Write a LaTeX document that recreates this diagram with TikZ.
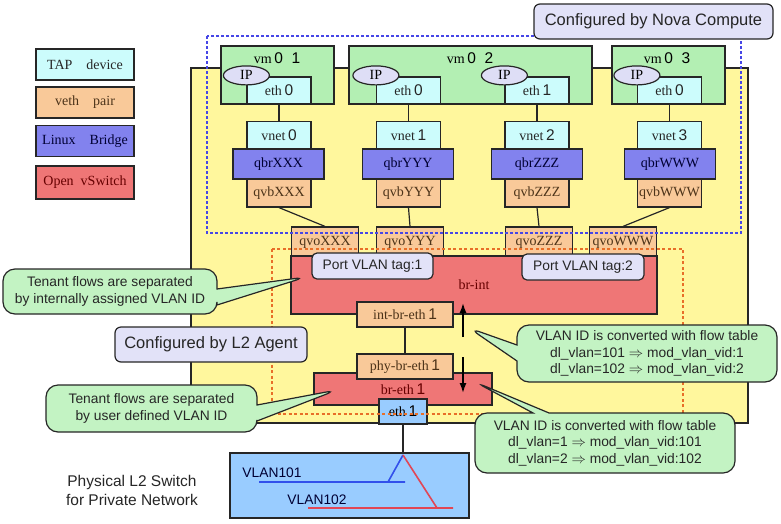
\documentclass[tikz,border=0pt]{standalone}
\usepackage{fontspec}
\setmainfont{Liberation Serif}
\setsansfont{Liberation Sans}
\usetikzlibrary{shapes.geometric,shapes.callouts,arrows.meta}

\definecolor{tapc}{RGB}{204,252,252}
\definecolor{vethc}{RGB}{249,201,153}
\definecolor{lbrc}{RGB}{130,130,238}
\definecolor{ovsc}{RGB}{239,118,118}
\definecolor{vmc}{RGB}{179,239,179}
\definecolor{hostc}{RGB}{255,247,157}
\definecolor{notec}{RGB}{226,226,248}
\definecolor{callc}{RGB}{195,243,195}
\definecolor{swc}{RGB}{153,204,255}
\definecolor{ipc}{RGB}{222,222,246}
\definecolor{novac}{RGB}{70,70,230}
\definecolor{agentc}{RGB}{232,110,40}

\newcommand\dg[1]{{\sffamily\fontsize{15.5}{15}\selectfont #1}}
\newcommand\sst{\sffamily\fontsize{13.8}{16.5}\selectfont}

\begin{document}
\begin{tikzpicture}[x=1pt,y=-1pt]
\tikzstyle{box}=[draw=black!85,line width=1.2pt,inner sep=0pt,font=\fontsize{14}{15}\selectfont]
\tikzstyle{tap}=[box,fill=tapc,minimum width=64pt,minimum height=27pt,text=black!85]
\tikzstyle{veth}=[box,fill=vethc,minimum width=64pt,minimum height=28pt,text=brown!40!black]
\tikzstyle{lbr}=[box,fill=lbrc,minimum width=91pt,minimum height=30pt,text=blue!20!black]
\tikzstyle{ovs}=[box,fill=ovsc,text=red!40!black]
\tikzstyle{vm}=[box,fill=vmc,minimum height=58pt]
\tikzstyle{vmname}=[inner sep=0pt,font=\fontsize{14}{15}\selectfont]
\tikzstyle{ip}=[box,ellipse,fill=ipc,minimum width=46pt,minimum height=19pt]
\tikzstyle{legend}=[minimum width=98pt,minimum height=31pt]
\tikzstyle{note}=[draw=black!85,line width=1.2pt,rounded corners=6pt,fill=notec,inner sep=0pt,font=\sffamily\fontsize{16.5}{18}\selectfont,text=black!85,minimum height=35pt]
\tikzstyle{tag}=[note,font=\sst,minimum height=26pt,rounded corners=5pt]
\tikzstyle{flownote}=[rectangle callout,draw=black!85,line width=1.2pt,rounded corners=12pt,fill=callc,inner sep=0pt,font=\sst,text=black!85,align=center,callout pointer width=16pt]
\tikzstyle{wire}=[draw=black!85,line width=1.2pt]
\tikzstyle{flow}=[-{Latex[length=10pt,width=7pt]},line width=1.5pt]
\useasboundingbox (0,0) rectangle (781,523);
% legend
\node [tap,legend] (lgtap) at (85,64.5) {TAP\quad device};
\node [veth,legend] (lgveth) at (85,102.5) {veth\quad pair};
\node [lbr,legend] (lglbr) at (85,141) {Linux\quad Bridge};
\node [ovs,legend,minimum height=33pt] (lgovs) at (85,182.5) {Open\enspace vSwitch};
% compute host
\node [box,fill=hostc,minimum width=557pt,minimum height=355pt] (host) at (469.5,245.5) {};
\node [vm,minimum width=113pt] (vm1) at (277.5,75) {};
\node [vm,minimum width=243pt] (vm2) at (470.5,75) {};
\node [vm,minimum width=113pt] (vm3) at (668.5,75) {};
\node [vmname] (vm1l) at (277,58) {vm\dg{\,0\ \ 1}};
\node [vmname] (vm2l) at (470,58) {vm\dg{\,0\ \ 2}};
\node [vmname] (vm3l) at (667,58) {vm\dg{\,0\ \ 3}};
\node [tap] (e10) at (279,90.5) {eth\dg{\,0}};
\node [tap] (e20) at (408.5,90.5) {eth\dg{\,0}};
\node [tap] (e21) at (537,90.5) {eth\dg{\,1}};
\node [tap] (e30) at (669.5,90.5) {eth\dg{\,0}};
\node [ip,yshift=1pt] (ip10) at (e10.north west) {IP};
\node [ip,yshift=1pt] (ip20) at (e20.north west) {IP};
\node [ip,yshift=1pt] (ip21) at (e21.north west) {IP};
\node [ip,yshift=1pt] (ip30) at (e30.north west) {IP};
\node [tap] (vnet0) at (279,135) {vnet\dg{\,0}};
\node [tap] (vnet1) at (408.5,135) {vnet\dg{\,1}};
\node [tap] (vnet2) at (537,135) {vnet\dg{\,2}};
\node [tap] (vnet3) at (669.5,135) {vnet\dg{\,3}};
\node [lbr] (qbrx) at (278.5,164) {qbrXXX};
\node [lbr] (qbry) at (408,164) {qbrYYY};
\node [lbr] (qbrz) at (537,164) {qbrZZZ};
\node [lbr] (qbrw) at (670,164) {qbrWWW};
\node [veth] (qvbx) at (279,193) {qvbXXX};
\node [veth] (qvby) at (408.5,193) {qvbYYY};
\node [veth] (qvbz) at (537,193) {qvbZZZ};
\node [veth] (qvbw) at (669.5,193) {qvbWWW};
\node [veth,minimum width=67pt,minimum height=30pt] (qvox) at (325,242) {qvoXXX};
\node [veth,minimum width=67pt,minimum height=30pt] (qvoy) at (410,242) {qvoYYY};
\node [veth,minimum width=67pt,minimum height=30pt] (qvoz) at (539,242) {qvoZZZ};
\node [veth,minimum width=67pt,minimum height=30pt] (qvow) at (623,242) {qvoWWW};
% integration and physical bridges
\node [ovs,minimum width=366pt,minimum height=58pt] (brint) at (474,285) {br-int};
\node [tag,minimum width=121pt] (tag1) at (372.5,266) {Port VLAN tag:1};
\node [tag,minimum width=122pt] (tag2) at (583,267) {Port VLAN tag:2};
\node [veth,minimum width=96pt,minimum height=25pt] (intbr) at (405,314.5) {int-br-eth\dg{\,1}};
\node [ovs,minimum width=178pt,minimum height=32pt] (breth) at (403,389) {\raisebox{-1pt}{br-eth\dg{\,1}}};
\node [veth,minimum width=96pt,minimum height=25pt] (phybr) at (405,366.5) {phy-br-eth\dg{\,1}};
\node [box,fill=swc,minimum width=48pt,minimum height=25pt] (eth1) at (403,411.5) {eth\dg{\,1}};
\draw [wire] (e10) -- (vnet0);
\draw [wire] (e20) -- (vnet1);
\draw [wire] (e21) -- (vnet2);
\draw [wire] (e30) -- (vnet3);
\draw [wire] (qvbx.south) -- (qvox.north);
\draw [wire] (qvby.south) -- (qvoy.north);
\draw [wire] (qvbz.south) -- (qvoz.north);
\draw [wire] (qvbw.south) -- (qvow.north);
\draw [wire] (intbr) -- (phybr);
% physical switch
\node [box,fill=swc,minimum width=239pt,minimum height=65pt] (sw) at (349.5,485.5) {};
\coordinate (swtop) at (403,455);
\draw [wire] (eth1.south) -- (sw.north -| eth1.south);
\node [font=\sst,text=blue!20!black] (v101) at (272,473) {VLAN101};
\node [font=\sst,text=blue!20!black] (v102) at (317,500) {VLAN102};
\draw [line width=1.6pt,color={rgb,255:red,50;green,80;blue,235}] (259,482) -- (405,482) (388,482) -- (swtop);
\draw [line width=1.6pt,color={rgb,255:red,225;green,70;blue,85}] (308,508) -- (453,508) (swtop) -- (437,508);
\node [font=\sffamily\fontsize{15.5}{19}\selectfont,align=center,text=black!85] (phys) at (132,490) {Physical L2 Switch\\for Private Network};
% configuration scopes
\draw [novac,line width=1.3pt,dash pattern=on 3pt off 2pt] (207,36) rectangle (741,233);
\draw [agentc,line width=1.3pt,dash pattern=on 3pt off 2.5pt] (272,249) rectangle (683,414);
\node [note,minimum width=239pt] (nova) at (653.5,21.5) {Configured by Nova Compute};
\node [note,minimum width=192pt] (agent) at (211,344.5) {Configured by L2 Agent};
% flows
\coordinate (upfrom) at (463,337);
\coordinate (upto) at (463,303);
\coordinate (dnfrom) at (463,357);
\coordinate (dnto) at (463,393);
\draw [flow] (upfrom) -- (upto);
\draw [flow] (dnfrom) -- (dnto);
\coordinate (tip1) at (306,277);
\coordinate (tip2) at (337,390);
\coordinate (tip3) at (469,328);
\coordinate (tip4) at (475,382);
\node [flownote,minimum width=214pt,minimum height=45pt,callout absolute pointer={(tip1)}] (c1) at (110,291.5) {Tenant flows are separated\\by internally assigned VLAN ID};
\node [flownote,minimum width=211pt,minimum height=47pt,callout absolute pointer={(tip2)}] (c2) at (151.5,408.5) {Tenant flows are separated\\by user defined VLAN ID};
\node [flownote,minimum width=260pt,minimum height=57pt,callout absolute pointer={(tip3)}] (c3) at (647,353.5) {VLAN ID is converted with flow table\\dl\_vlan=101 $\Rightarrow$ mod\_vlan\_vid:1\\dl\_vlan=102 $\Rightarrow$ mod\_vlan\_vid:2};
\node [flownote,minimum width=260pt,minimum height=60pt,callout absolute pointer={(tip4)}] (c4) at (605,443) {VLAN ID is converted with flow table\\dl\_vlan=1 $\Rightarrow$ mod\_vlan\_vid:101\\dl\_vlan=2 $\Rightarrow$ mod\_vlan\_vid:102};
\end{tikzpicture}
\end{document}
